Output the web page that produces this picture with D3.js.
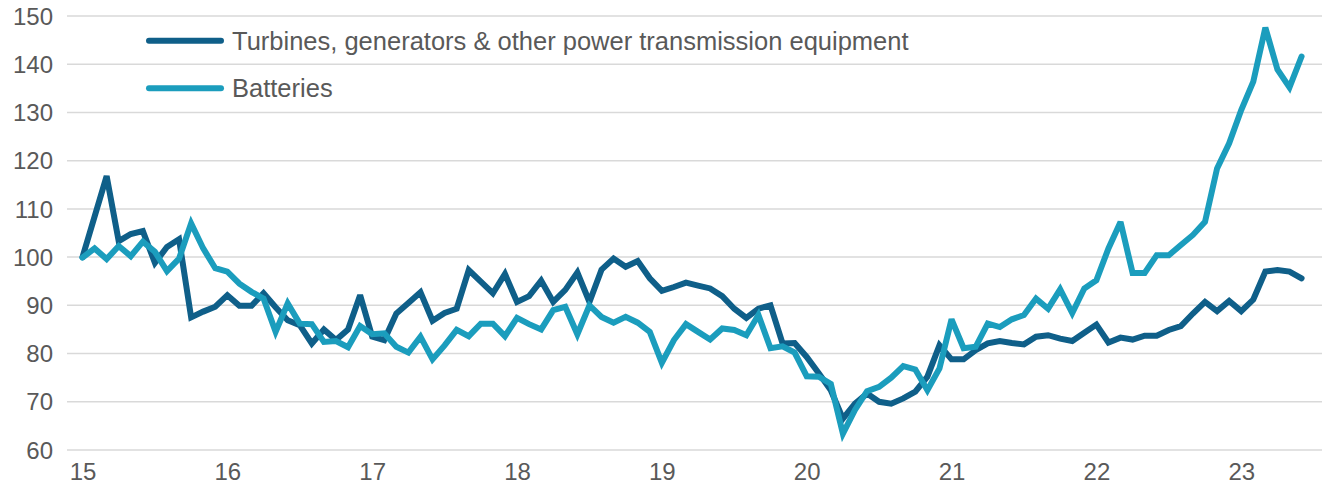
<!DOCTYPE html>
<html>
<head>
<meta charset="utf-8">
<script src="https://cdn.jsdelivr.net/npm/d3@7"></script>
<style>
  body { margin: 0; background: #fff; }
  text { font-family: "Helvetica Neue", Arial, "Liberation Sans", sans-serif; fill: #595959; }
</style>
</head>
<body>
<div id="chart-container"></div>
<script>
// monthly index, Jan 2015 = 100 (Jan 2015 .. Jun 2023)
const yearLabels = ["15", "16", "17", "18", "19", "20", "21", "22", "23"];
const yTicks = [60, 70, 80, 90, 100, 110, 120, 130, 140, 150];
const seriesNames = ["Turbines, generators & other power transmission equipment", "Batteries"];

const turbines = [
  100, 108.4, 116.8, 103.3, 104.8, 105.4, 98.8, 102.1, 103.7, 87.5, 88.7, 89.7,
  92.1, 89.9, 89.9, 92.5, 89.6, 86.9, 85.9, 82.1, 85, 82.8, 85, 92.1,
  83.5, 82.8, 88.3, 90.5, 92.7, 86.8, 88.4, 89.3, 97.3, 94.9, 92.5, 96.5,
  90.7, 91.9, 95.1, 90.7, 93.2, 96.8, 90.7, 97.4, 99.7, 98.0, 99.2, 95.6,
  93.0, 93.8, 94.7, 94.1, 93.5, 91.9, 89.3, 87.4, 89.3, 90.0, 82.1, 82.2,
  79.3, 75.9, 72.4, 66.5, 69.6, 71.7, 70.0, 69.6, 70.7, 72.1, 75.2, 81.7,
  78.8, 78.8, 80.7, 82.1, 82.6, 82.2, 81.9, 83.5, 83.8, 83.1, 82.6, 84.3,
  86.0, 82.3, 83.3, 82.9, 83.7, 83.7, 84.9, 85.7, 88.3, 90.7, 88.8, 90.9,
  88.8, 91.2, 97.0, 97.3, 97.0, 95.6
];

const batteries = [
  99.9, 101.8, 99.6, 102.3, 100.2, 103.2, 101.1, 97.1, 99.7, 107.0, 101.8, 97.7,
  97.0, 94.5, 92.8, 91.4, 84.5, 90.4, 86.2, 86.1, 82.4, 82.6, 81.3, 85.7,
  84.0, 84.2, 81.4, 80.2, 83.5, 78.8, 81.7, 84.9, 83.6, 86.2, 86.2, 83.6,
  87.4, 86.1, 85.0, 89.0, 89.7, 84.0, 90.0, 87.6, 86.4, 87.6, 86.4, 84.5,
  78.1, 82.8, 86.1, 84.5, 82.9, 85.2, 84.9, 83.8, 88.0, 81.1, 81.5, 80.2,
  75.3, 75.2, 73.7, 63.4, 68.3, 72.2, 73.1, 75.0, 77.4, 76.7, 72.4, 76.9,
  87.1, 81.1, 81.4, 86.2, 85.5, 87.1, 88.0, 91.4, 89.3, 93.3, 88.4, 93.5,
  95.2, 101.8, 107.3, 96.7, 96.7, 100.4, 100.4, 102.5, 104.6, 107.3, 118.4, 123.6,
  130.5, 136.4, 147.6, 138.9, 135.2, 141.6
];

const colors = ["#0f5f89", "#1b9dbd"];

const svgWidth = 1329;
const svgHeight = 489;
const margin = { top: 16, right: 7, bottom: 39, left: 67 };

const svg = d3
  .select("#chart-container")
  .append("svg")
  .attr("width", svgWidth)
  .attr("height", svgHeight);

const x = d3
  .scaleLinear()
  .domain([0, 101])
  .range([82.5, 82.5 + 101 * 12.07]);

const y = d3
  .scaleLinear()
  .domain([60, 150])
  .range([svgHeight - margin.bottom, margin.top]);

// gridlines
svg
  .append("g")
  .selectAll("line")
  .data(yTicks)
  .enter()
  .append("line")
  .attr("x1", margin.left)
  .attr("x2", svgWidth - margin.right)
  .attr("y1", (d) => y(d))
  .attr("y2", (d) => y(d))
  .attr("stroke", "#d9d9d9")
  .attr("stroke-width", 1.5);

// y axis labels
const yAxis = svg
  .append("g")
  .attr("transform", `translate(${margin.left - 14},0)`)
  .call(d3.axisLeft(y).tickValues(yTicks).tickSize(0).tickPadding(0));
yAxis.select(".domain").remove();
yAxis
  .selectAll("text")
  .attr("font-size", "24px")
  .attr("dy", "0.34em")
  .style("font-family", null);

// x axis labels
const xAxis = svg
  .append("g")
  .attr("transform", `translate(0,${svgHeight - margin.bottom})`)
  .call(
    d3
      .axisBottom(x)
      .tickValues(yearLabels.map((d, i) => i * 12))
      .tickFormat((d, i) => yearLabels[i])
      .tickSize(0)
      .tickPadding(13)
  );
xAxis.select(".domain").remove();
xAxis
  .selectAll("text")
  .attr("font-size", "24px")
  .style("font-family", null);

const line = d3
  .line()
  .x((d, i) => x(i))
  .y((d) => y(d));

[turbines, batteries].forEach((series, k) => {
  svg
    .append("path")
    .datum(series)
    .attr("fill", "none")
    .attr("stroke", colors[k])
    .attr("stroke-width", 6)
    .attr("stroke-linecap", "round")
    .attr("stroke-linejoin", "miter")
    .attr("stroke-miterlimit", 3)
    .attr("d", line);
});

// legend
const legend = svg
  .append("g")
  .selectAll("g")
  .data(seriesNames)
  .enter()
  .append("g")
  .attr("transform", (d, i) => `translate(149,${40.7 + i * 47.6})`);

legend
  .append("line")
  .attr("x1", 0)
  .attr("x2", 72)
  .attr("stroke", (d, i) => colors[i])
  .attr("stroke-width", 6)
  .attr("stroke-linecap", "round");

legend
  .append("text")
  .attr("x", 83)
  .attr("dy", "0.35em")
  .attr("font-size", "25.5px")
  .text((d) => d);
</script>
</body>
</html>
